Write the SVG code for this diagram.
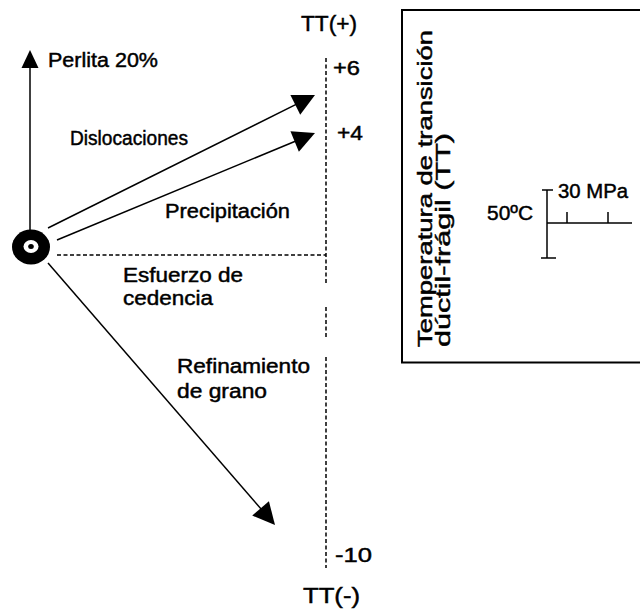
<svg xmlns="http://www.w3.org/2000/svg" width="640" height="609" viewBox="0 0 640 609">
  <style>
    .t { font-family: "Liberation Sans", Arial, sans-serif; font-size: 20px; fill: #000; stroke: #000; stroke-width: 0.45px; }
    .big { font-size: 22px; }
    .ln { stroke: #000; stroke-width: 1.5; fill: none; }
    .dash { stroke: #000; stroke-width: 1.5; fill: none; stroke-dasharray: 4 2.5; }
    .box { stroke: #000; stroke-width: 2; fill: none; }
  </style>
  <defs>
    <marker id="ah" markerUnits="userSpaceOnUse" markerWidth="30" markerHeight="30" refX="2" refY="0" viewBox="-2 -15 30 30" orient="auto" overflow="visible">
      <path d="M0,-11 L22,0 L0,11 Z" fill="#000"/>
    </marker>
    <marker id="ahs" markerUnits="userSpaceOnUse" markerWidth="30" markerHeight="30" refX="2" refY="0" viewBox="-2 -15 30 30" orient="auto" overflow="visible">
      <path d="M0,-8.5 L18,0 L0,8.5 Z" fill="#000"/>
    </marker>
  </defs>
  <rect width="640" height="609" fill="#fff"/>

  <g id="connectors">
    <line class="ln" x1="30" y1="231" x2="30" y2="66" marker-end="url(#ahs)"/>
    <line class="ln" x1="48" y1="228" x2="297.1" y2="103.9" marker-end="url(#ah)"/>
    <line class="ln" x1="57" y1="240" x2="296.5" y2="140.7" marker-end="url(#ah)"/>
    <line class="ln" x1="48" y1="263" x2="261.9" y2="509.9" marker-end="url(#ah)"/>
    <line class="dash" x1="57" y1="255" x2="326" y2="255"/>
    <line class="dash" x1="326" y1="58" x2="326" y2="284"/>
    <line class="dash" x1="326" y1="307" x2="326" y2="338"/>
    <line class="dash" x1="326" y1="357" x2="326" y2="568"/>
  </g>

  <g id="origin">
    <ellipse cx="31" cy="247" rx="19" ry="17.5" fill="#000"/>
    <ellipse cx="31" cy="246.5" rx="7.5" ry="6.5" fill="#fff"/>
    <ellipse cx="31" cy="246.5" rx="2.8" ry="2.5" fill="#000"/>
  </g>

  <g id="labels">
    <text class="t" x="48" y="67" textLength="110" lengthAdjust="spacingAndGlyphs">Perlita 20%</text>
    <text class="t" x="70" y="145" textLength="118" lengthAdjust="spacingAndGlyphs">Dislocaciones</text>
    <text class="t" x="165" y="218" textLength="125" lengthAdjust="spacingAndGlyphs">Precipitación</text>
    <text class="t" x="123" y="282" textLength="120" lengthAdjust="spacingAndGlyphs">Esfuerzo de</text>
    <text class="t" x="123" y="305" textLength="90" lengthAdjust="spacingAndGlyphs">cedencia</text>
    <text class="t" x="177" y="373" textLength="133" lengthAdjust="spacingAndGlyphs">Refinamiento</text>
    <text class="t" x="177" y="398" textLength="90" lengthAdjust="spacingAndGlyphs">de grano</text>
  </g>

  <g id="axis">
    <text class="t big" x="301" y="31" textLength="56" lengthAdjust="spacingAndGlyphs">TT(+)</text>
    <text class="t" x="333" y="75" textLength="27" lengthAdjust="spacingAndGlyphs">+6</text>
    <text class="t" x="337" y="140" textLength="26" lengthAdjust="spacingAndGlyphs">+4</text>
    <text class="t" x="335" y="562" textLength="37" lengthAdjust="spacingAndGlyphs">-10</text>
    <text class="t big" x="303" y="603" textLength="57" lengthAdjust="spacingAndGlyphs">TT(-)</text>
  </g>

  <g id="legend">
    <path class="box" d="M640,10 H402 V362.5 H640"/>
    <text class="t" transform="translate(432,347) rotate(-90)" x="0" y="0" font-size="21" textLength="317" lengthAdjust="spacingAndGlyphs">Temperatura de transición</text>
    <text class="t" transform="translate(450,347) rotate(-90)" x="0" y="0" font-size="21" textLength="214" lengthAdjust="spacingAndGlyphs">dúctil-frágil (TT)</text>
    <g id="scale">
      <line class="ln" x1="547" y1="190" x2="547" y2="258"/>
      <line class="ln" x1="542" y1="190" x2="553" y2="190"/>
      <line class="ln" x1="541" y1="258" x2="556" y2="258"/>
      <line class="ln" x1="547" y1="223" x2="632" y2="223"/>
      <line class="ln" x1="567" y1="212" x2="567" y2="223"/>
      <line class="ln" x1="608" y1="212" x2="608" y2="223"/>
      <text class="t" x="558" y="198" font-size="19" textLength="70" lengthAdjust="spacingAndGlyphs">30 MPa</text>
      <text class="t" x="487" y="220" font-size="19" textLength="46" lengthAdjust="spacingAndGlyphs">50ºC</text>
    </g>
  </g>
</svg>
